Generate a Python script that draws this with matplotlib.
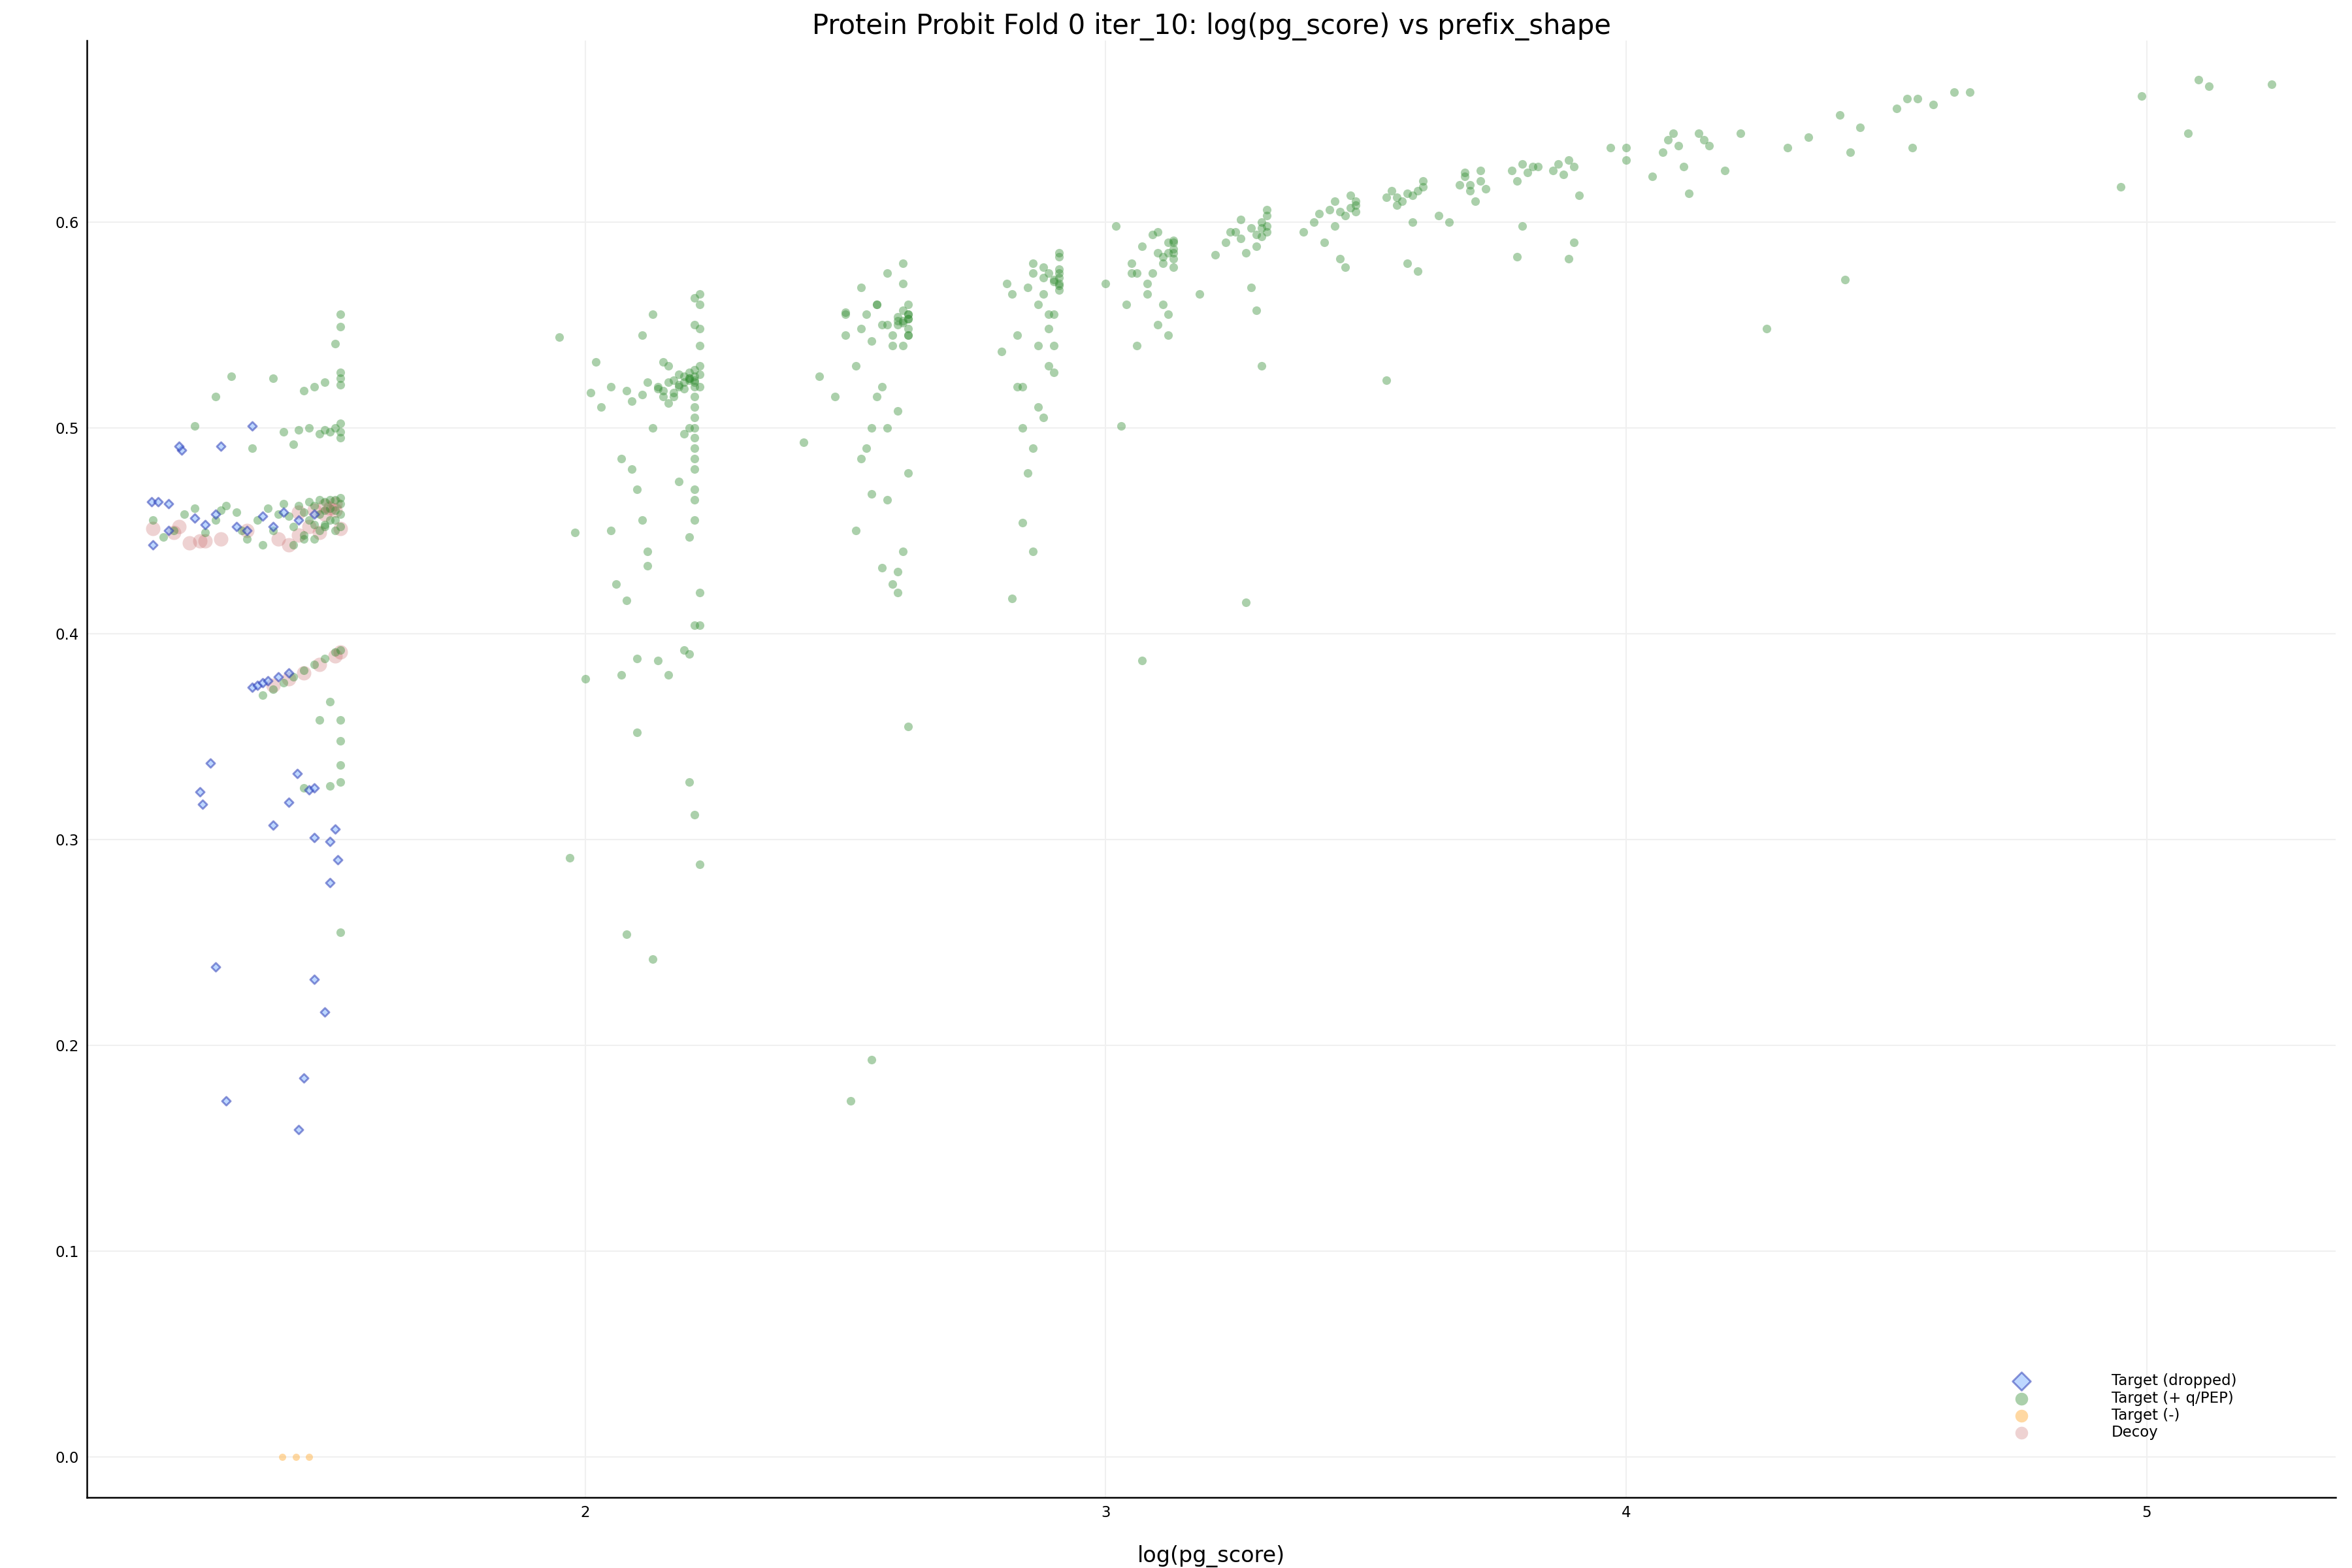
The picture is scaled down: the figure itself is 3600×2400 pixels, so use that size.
import matplotlib
matplotlib.use("Agg")
import matplotlib.pyplot as plt

# ---- data ----
drop_x = [1.167,1.18,1.20,1.17,1.225,1.22,1.30,1.36,1.25,1.27,1.29,1.33,1.20,1.38,1.45,1.48,1.35,1.40,1.42,
          1.28,1.26,1.265,1.29,1.31,1.40,1.43,1.447,1.47,1.48,1.48,1.52,1.51,1.525,1.51,1.48,1.50,1.46,1.45,
          1.36,1.37,1.38,1.39,1.41,1.43]
drop_y = [0.464,0.464,0.463,0.443,0.489,0.491,0.491,0.501,0.456,0.453,0.458,0.452,0.450,0.457,0.455,0.458,0.450,0.452,0.459,
          0.337,0.323,0.317,0.238,0.173,0.307,0.318,0.332,0.324,0.325,0.301,0.305,0.299,0.290,0.279,0.232,0.216,0.184,0.159,
          0.374,0.375,0.376,0.377,0.379,0.381]

green_x = [
 1.17,1.19,1.21,1.23,1.25,1.27,1.29,1.31,1.33,1.35,1.37,1.39,1.40,1.41,1.42,1.43,1.44,1.45,1.46,1.46,1.47,1.47,1.48,1.48,
 1.49,1.49,1.49,1.50,1.50,1.50,1.51,1.51,1.51,1.52,1.52,1.52,1.53,1.53,1.53,1.53,1.44,1.46,1.48,1.50,1.52,1.38,1.34,1.30,
 1.53,1.53,1.52,1.53,1.53,1.53,1.53,1.52,1.51,1.50,1.49,1.47,1.45,1.44,1.40,1.32,1.29,1.25,1.42,1.46,1.48,1.50,1.53,1.53,1.36,
 1.40,1.42,1.44,1.46,1.48,1.50,1.52,1.53,
 1.53,1.53,1.49,1.51,1.53,1.53,1.51,1.53,1.46,1.38,
 1.95,1.97,1.98,2.00,2.01,2.02,2.03,2.05,2.06,2.07,2.08,2.08,2.13,2.10,2.05,2.07,2.09,2.10,2.11,2.12,2.13,2.14,2.15,2.16,
 2.17,2.18,2.19,2.20,2.21,2.21,2.21,2.21,2.21,2.21,2.21,2.21,2.21,2.21,2.21,2.21,2.22,2.22,2.22,2.22,2.20,2.19,2.18,2.17,
 2.16,2.15,2.14,2.12,2.11,2.09,2.08,2.18,2.20,2.19,2.21,2.20,2.22,2.22,2.21,2.20,2.19,2.16,2.14,2.12,2.10,2.20,2.21,2.22,
 2.20,2.21,2.22,2.21,2.22,2.21,2.20,2.19,2.18,2.17,2.16,2.15,2.13,2.11,2.21,2.21,2.22,
 2.42,2.45,2.48,2.50,2.52,2.53,2.54,2.55,2.56,2.57,2.58,2.59,2.60,2.61,2.62,2.62,2.62,2.62,2.62,2.61,2.61,2.60,2.59,2.58,
 2.57,2.56,2.55,2.54,2.53,2.52,2.58,2.60,2.61,2.62,2.59,2.57,2.55,2.60,2.61,2.62,2.55,2.51,2.50,2.60,2.61,2.62,2.61,2.62,
 2.50,2.53,2.56,2.58,2.62,2.60,
 2.80,2.81,2.82,2.83,2.84,2.85,2.86,2.87,2.88,2.89,2.90,2.91,2.91,2.91,2.91,2.91,2.90,2.89,2.88,2.87,2.86,2.85,2.84,2.86,
 2.84,2.90,2.91,2.88,2.87,2.82,2.89,2.90,2.91,2.91,2.90,2.89,2.88,2.86,2.83,
 3.00,3.02,3.04,3.05,3.06,3.07,3.08,3.09,3.10,3.11,3.12,3.13,3.13,3.13,3.13,3.12,3.11,3.10,3.09,3.07,3.03,3.06,3.08,3.12,
 3.13,3.11,3.05,3.10,3.13,3.12,
 3.18,3.21,3.23,3.24,3.25,3.26,3.27,3.28,3.29,3.30,3.31,3.31,3.31,3.30,3.29,3.27,3.30,3.26,3.28,3.31,3.30,3.29,
 3.38,3.40,3.41,3.42,3.43,3.44,3.45,3.46,3.47,3.48,3.48,3.47,3.46,3.45,3.54,3.48,3.44,
 3.54,3.55,3.56,3.57,3.58,3.59,3.60,3.61,3.61,3.60,3.59,3.58,3.56,
 3.64,3.66,3.68,3.69,3.70,3.71,3.72,3.72,3.70,3.69,3.73,
 3.78,3.79,3.80,3.81,3.82,3.83,3.80,3.79,
 3.86,3.87,3.88,3.89,3.90,3.91,3.89,3.90,
 3.97,4.00,4.00,4.05,4.08,4.09,4.12,4.11,4.14,4.15,4.19,4.22,4.27,4.31,4.35,4.41,4.42,4.43,4.45,4.52,4.54,4.55,4.56,4.59,
 4.63,4.66,4.95,4.99,5.08,5.10,5.12,5.24,4.10,4.07,4.16]
green_y = [
 0.455,0.447,0.450,0.458,0.461,0.449,0.455,0.462,0.459,0.446,0.455,0.461,0.450,0.458,0.463,0.457,0.452,0.462,0.459,0.448,0.464,0.455,0.462,0.453,
 0.465,0.458,0.450,0.464,0.460,0.452,0.465,0.461,0.455,0.465,0.460,0.450,0.466,0.463,0.458,0.452,0.443,0.446,0.446,0.453,0.455,0.443,0.450,0.460,
 0.555,0.549,0.541,0.527,0.524,0.521,0.502,0.500,0.498,0.499,0.497,0.500,0.499,0.492,0.524,0.525,0.515,0.501,0.498,0.518,0.520,0.522,0.498,0.495,0.490,
 0.373,0.376,0.379,0.382,0.385,0.388,0.391,0.392,
 0.358,0.348,0.358,0.367,0.336,0.328,0.326,0.255,0.325,0.370,
 0.544,0.291,0.449,0.378,0.517,0.532,0.510,0.450,0.424,0.380,0.416,0.254,0.242,0.388,0.520,0.485,0.480,0.470,0.455,0.440,0.500,0.520,0.518,0.522,
 0.515,0.520,0.522,0.524,0.525,0.520,0.515,0.510,0.505,0.500,0.495,0.490,0.485,0.480,0.470,0.465,0.560,0.540,0.530,0.548,0.523,0.519,0.521,0.517,
 0.512,0.515,0.519,0.522,0.516,0.513,0.518,0.474,0.500,0.497,0.455,0.447,0.420,0.404,0.404,0.390,0.392,0.380,0.387,0.433,0.352,0.328,0.312,0.288,
 0.524,0.523,0.526,0.522,0.520,0.528,0.527,0.525,0.526,0.523,0.530,0.532,0.555,0.545,0.563,0.550,0.565,
 0.493,0.525,0.515,0.545,0.530,0.568,0.555,0.542,0.560,0.550,0.575,0.545,0.550,0.552,0.555,0.548,0.560,0.545,0.553,0.580,0.570,0.552,0.540,0.500,
 0.520,0.515,0.500,0.490,0.485,0.450,0.465,0.430,0.440,0.478,0.424,0.432,0.468,0.420,0.540,0.355,0.193,0.173,0.556,0.554,0.551,0.553,0.557,0.555,
 0.555,0.548,0.560,0.550,0.545,0.508,
 0.537,0.570,0.565,0.545,0.520,0.568,0.575,0.560,0.578,0.555,0.572,0.569,0.573,0.575,0.570,0.567,0.540,0.530,0.505,0.510,0.490,0.478,0.454,0.440,
 0.500,0.555,0.585,0.565,0.540,0.417,0.575,0.571,0.577,0.583,0.527,0.548,0.573,0.580,0.520,
 0.570,0.598,0.560,0.580,0.575,0.588,0.570,0.594,0.585,0.580,0.585,0.582,0.587,0.590,0.578,0.545,0.560,0.550,0.575,0.387,0.501,0.540,0.565,0.590,
 0.585,0.583,0.575,0.595,0.591,0.555,
 0.565,0.584,0.590,0.595,0.595,0.592,0.415,0.597,0.588,0.600,0.598,0.595,0.603,0.530,0.557,0.585,0.593,0.601,0.568,0.606,0.597,0.594,
 0.595,0.600,0.604,0.590,0.606,0.610,0.605,0.603,0.607,0.608,0.605,0.613,0.578,0.582,0.523,0.610,0.598,
 0.612,0.615,0.608,0.610,0.580,0.613,0.615,0.617,0.620,0.576,0.600,0.614,0.612,
 0.603,0.600,0.618,0.622,0.618,0.610,0.620,0.625,0.615,0.624,0.616,
 0.625,0.620,0.628,0.624,0.627,0.627,0.598,0.583,
 0.625,0.628,0.623,0.630,0.627,0.613,0.582,0.590,
 0.636,0.636,0.630,0.622,0.640,0.643,0.614,0.627,0.643,0.640,0.625,0.643,0.548,0.636,0.641,0.652,0.572,0.634,0.646,0.655,0.660,0.636,0.660,0.657,
 0.663,0.663,0.617,0.661,0.643,0.669,0.666,0.667,0.637,0.634,0.637]

minus_x = [1.418,1.444,1.470]
minus_y = [0.0,0.0,0.0]

decoy_x = [1.17,1.21,1.24,1.27,1.30,1.35,1.41,1.43,1.45,1.48,1.50,1.51,1.52,1.53,1.49,1.47,1.45,1.50,1.52,1.22,1.26,
           1.40,1.43,1.46,1.49,1.52,1.53]
decoy_y = [0.451,0.449,0.444,0.445,0.446,0.450,0.446,0.443,0.459,0.460,0.462,0.461,0.460,0.451,0.449,0.452,0.448,0.458,0.463,0.452,0.445,
           0.375,0.378,0.381,0.385,0.389,0.391]

plt.rcParams['font.family'] = ['DejaVu Sans']
fig = plt.figure(figsize=(12, 8), dpi=300)
ax = fig.add_axes([0.037, 0.045, 0.956, 0.929])

ax.scatter(decoy_x, decoy_y, s=28, color='#c96a6a', alpha=0.3, linewidths=0, label='Decoy', zorder=2)
ax.scatter(green_x, green_y, s=10, color='#2e8b2e', alpha=0.4, linewidths=0, label='Target (+ q/PEP)', zorder=3)
ax.scatter(minus_x, minus_y, s=7, color='#ffb347', alpha=0.5, linewidths=0, label='Target (-)', zorder=3)
ax.scatter(drop_x, drop_y, s=5, marker='D', facecolor='#7fb0ff', edgecolor='#2030b0', linewidths=0.7,
           alpha=0.5, label='Target (dropped)', zorder=4)

ax.set_xlim(1.043, 5.363)
ax.set_ylim(-0.0197, 0.688)
ax.set_xticks([2, 3, 4, 5])
ax.set_yticks([0.0, 0.1, 0.2, 0.3, 0.4, 0.5, 0.6])
ax.set_yticklabels(['0.0','0.1','0.2','0.3','0.4','0.5','0.6'])
ax.tick_params(labelsize=5.5, length=0, pad=3)
ax.grid(True, color='#f0f0f0', linewidth=0.5)
ax.set_axisbelow(True)
for s in ['top', 'right']:
    ax.spines[s].set_visible(False)
for s in ['left', 'bottom']:
    ax.spines[s].set_linewidth(0.6)
ax.set_xlabel('log(pg_score)', fontsize=8, labelpad=9)
ax.set_title('Protein Probit Fold 0 iter_10: log(pg_score) vs prefix_shape', fontsize=10, pad=2)

h, l = ax.get_legend_handles_labels()
order = [3, 1, 2, 0]
leg = ax.legend([h[i] for i in order], [l[i] for i in order], loc='lower right',
                bbox_to_anchor=(0.962, 0.03), frameon=False, fontsize=5.5,
                handletextpad=5, labelspacing=0.15)
for hd in leg.legend_handles:
    hd.set_sizes([22])
fig.savefig('out.png', dpi=300)
